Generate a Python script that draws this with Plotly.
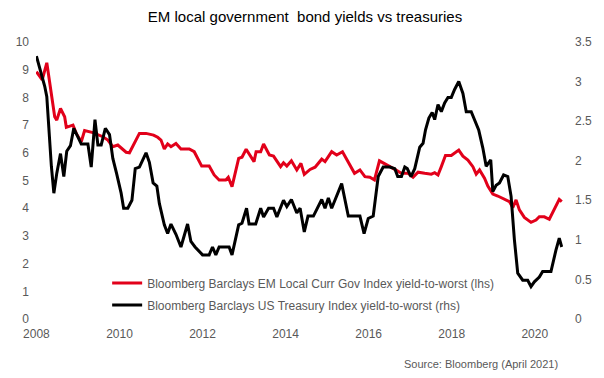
import plotly.graph_objects as go

# EM local currency government bond yield-to-worst (lhs, %)
em_dates = [2008.00, 2008.14, 2008.25, 2008.44, 2008.49, 2008.58, 2008.68, 2008.72, 2008.88, 2008.96,
            2009.08, 2009.16, 2009.36, 2009.60, 2009.72, 2009.84, 2009.96, 2010.16, 2010.24, 2010.48,
            2010.64, 2010.82, 2010.92, 2011.00, 2011.08, 2011.16, 2011.24, 2011.36, 2011.48, 2011.68,
            2011.80, 2011.98, 2012.16, 2012.28, 2012.40, 2012.56, 2012.62, 2012.71, 2012.87, 2012.95,
            2013.05, 2013.24, 2013.29, 2013.40, 2013.47, 2013.61, 2013.71, 2013.88, 2013.95, 2014.03,
            2014.14, 2014.27, 2014.37, 2014.45, 2014.59, 2014.71, 2014.87, 2014.95, 2015.11, 2015.23,
            2015.37, 2015.51, 2015.66, 2015.79, 2015.91, 2016.03, 2016.14, 2016.26, 2016.35, 2016.51,
            2016.63, 2016.79, 2016.95, 2017.07, 2017.19, 2017.35, 2017.51, 2017.59, 2017.67, 2017.75,
            2017.85, 2017.99, 2018.17, 2018.27, 2018.39, 2018.51, 2018.59, 2018.67, 2018.79, 2018.87,
            2018.99, 2019.11, 2019.23, 2019.39, 2019.47, 2019.55, 2019.63, 2019.75, 2019.91, 2020.03,
            2020.11, 2020.23, 2020.35, 2020.47, 2020.59, 2020.65]
em_yield = [8.93, 8.63, 9.25, 7.30, 7.18, 7.60, 7.30, 6.92, 7.00, 6.70,
            6.40, 6.80, 6.73, 6.58, 6.46, 6.22, 6.28, 6.02, 6.00, 6.70,
            6.70, 6.64, 6.56, 6.46, 6.14, 6.32, 6.22, 6.34, 6.14, 6.14,
            6.04, 5.52, 5.52, 5.20, 5.02, 5.02, 5.12, 4.78, 5.80, 5.84,
            6.13, 5.68, 6.04, 6.04, 6.32, 5.92, 5.88, 5.50, 5.64, 5.52,
            5.71, 5.38, 5.62, 5.22, 5.40, 5.48, 5.77, 5.68, 6.04, 5.92,
            6.04, 5.68, 5.26, 5.38, 5.14, 5.12, 5.02, 5.71, 5.64, 5.50,
            5.40, 5.26, 5.26, 5.12, 5.30, 5.26, 5.23, 5.28, 5.20, 5.50,
            5.90, 5.90, 6.10, 5.88, 5.74, 5.50, 5.23, 5.38, 5.08, 4.80,
            4.51, 4.44, 4.36, 4.24, 4.02, 4.30, 3.94, 3.67, 3.49, 3.57,
            3.69, 3.69, 3.60, 3.94, 4.32, 4.24]

# US Treasury index yield-to-worst (rhs, %)
ust_dates = [2008.00, 2008.12, 2008.20, 2008.25, 2008.30, 2008.36, 2008.42, 2008.49, 2008.58, 2008.66,
             2008.73, 2008.82, 2008.90, 2009.00, 2009.08, 2009.24, 2009.32, 2009.41, 2009.48, 2009.56,
             2009.66, 2009.76, 2009.84, 2009.93, 2010.04, 2010.10, 2010.20, 2010.30, 2010.38, 2010.48,
             2010.64, 2010.72, 2010.81, 2010.90, 2010.96, 2011.08, 2011.16, 2011.24, 2011.36, 2011.48,
             2011.64, 2011.72, 2011.82, 2012.00, 2012.16, 2012.24, 2012.32, 2012.40, 2012.64, 2012.71,
             2012.87, 2012.95, 2013.06, 2013.12, 2013.28, 2013.40, 2013.47, 2013.59, 2013.71, 2013.79,
             2013.95, 2014.03, 2014.14, 2014.27, 2014.35, 2014.45, 2014.54, 2014.67, 2014.87, 2014.95,
             2015.03, 2015.11, 2015.35, 2015.51, 2015.79, 2015.89, 2015.99, 2016.11, 2016.23, 2016.35,
             2016.51, 2016.63, 2016.70, 2016.79, 2016.87, 2016.93, 2017.02, 2017.11, 2017.23, 2017.31,
             2017.37, 2017.45, 2017.53, 2017.59, 2017.67, 2017.75, 2017.83, 2017.91, 2017.99, 2018.07,
             2018.17, 2018.27, 2018.35, 2018.47, 2018.57, 2018.65, 2018.75, 2018.83, 2018.94, 2018.99,
             2019.07, 2019.15, 2019.25, 2019.35, 2019.43, 2019.51, 2019.59, 2019.71, 2019.83, 2019.91,
             2019.99, 2020.11, 2020.19, 2020.39, 2020.51, 2020.59, 2020.65]
ust_yield = [3.32, 3.11, 2.94, 2.81, 2.39, 1.93, 1.59, 1.84, 2.09, 1.80,
             2.12, 2.19, 2.41, 2.30, 2.21, 2.21, 1.92, 2.52, 2.20, 2.20,
             2.41, 2.33, 2.03, 1.84, 1.59, 1.40, 1.40, 1.50, 1.90, 1.92,
             2.10, 1.98, 1.72, 1.68, 1.46, 1.19, 1.08, 1.20, 1.07, 0.91,
             1.20, 0.98, 0.91, 0.81, 0.81, 0.91, 0.81, 0.91, 0.91, 0.81,
             1.19, 1.21, 1.40, 1.20, 1.20, 1.40, 1.29, 1.40, 1.40, 1.29,
             1.50, 1.42, 1.51, 1.34, 1.40, 1.10, 1.30, 1.30, 1.51, 1.40,
             1.53, 1.40, 1.71, 1.30, 1.30, 1.08, 1.27, 1.30, 1.80, 1.92,
             1.92, 1.90, 1.80, 1.80, 1.92, 1.90, 1.80, 1.90, 2.17, 2.22,
             2.39, 2.54, 2.61, 2.52, 2.71, 2.62, 2.73, 2.80, 2.80, 2.90,
             3.00, 2.85, 2.62, 2.62, 2.49, 2.39, 2.16, 1.93, 2.01, 1.61,
             1.69, 1.72, 1.82, 1.80, 1.55, 1.00, 0.58, 0.49, 0.49, 0.41,
             0.47, 0.53, 0.60, 0.60, 0.87, 1.02, 0.91]

x_ticks = [2008, 2010, 2012, 2014, 2016, 2018, 2020]
x_tick_labels = ["2008", "2010", "2012", "2014", "2016", "2018", "2020"]

em_name = "Bloomberg Barclays EM Local Curr Gov Index yield-to-worst (lhs)"
ust_name = "Bloomberg Barclays US Treasury Index yield-to-worst (rhs)"
title_text = "EM local government  bond yields vs treasuries"
source_text = "Source: Bloomberg (April 2021)"

FONT = "Liberation Sans, Arial, sans-serif"
GREY = "#595959"

fig = go.Figure()
fig.add_trace(go.Scatter(x=em_dates, y=em_yield, name=em_name, mode="lines",
                         line=dict(color="#E2001A", width=3), legendgroup="a", yaxis="y"))
fig.add_trace(go.Scatter(x=ust_dates, y=ust_yield, name=ust_name, mode="lines",
                         line=dict(color="#000000", width=3), legendgroup="b", yaxis="y2"))

fig.update_layout(
    width=604, height=378,
    margin=dict(l=36, r=39, t=42, b=59),
    paper_bgcolor="white", plot_bgcolor="white",
    font=dict(family=FONT, size=12, color=GREY),
    title=dict(text=title_text, x=0.505, xanchor="center", y=0.969, yanchor="top",
               font=dict(family=FONT, size=15, color="#000000")),
    xaxis=dict(range=[2007.99, 2020.68], tickvals=x_ticks, ticktext=x_tick_labels,
               showgrid=False, zeroline=False, showline=False, ticks="",
               ticklabelstandoff=6, tickfont=dict(size=12, color=GREY)),
    yaxis=dict(range=[0, 10], dtick=1, showgrid=False, zeroline=False, showline=False,
               ticks="", ticklabelstandoff=6, tickfont=dict(size=12, color=GREY)),
    yaxis2=dict(range=[0, 3.5], dtick=0.5, overlaying="y", side="right",
                showgrid=False, zeroline=False, showline=False, ticks="",
                ticklabelstandoff=11, tickfont=dict(size=12, color=GREY)),
    legend=dict(x=0.135, y=0.182, xanchor="left", yanchor="top",
                bgcolor="rgba(0,0,0,0)", tracegroupgap=3,
                font=dict(family=FONT, size=12, color=GREY)),
    showlegend=True,
)

fig.add_annotation(text=source_text, xref="paper", yref="paper", x=0.995, y=-0.162,
                   xanchor="right", yanchor="middle", showarrow=False,
                   font=dict(family=FONT, size=11, color=GREY))

fig.write_html("out.html", config={"displayModeBar": False},
               post_script="document.body.style.margin='0';document.body.style.overflow='hidden';")
